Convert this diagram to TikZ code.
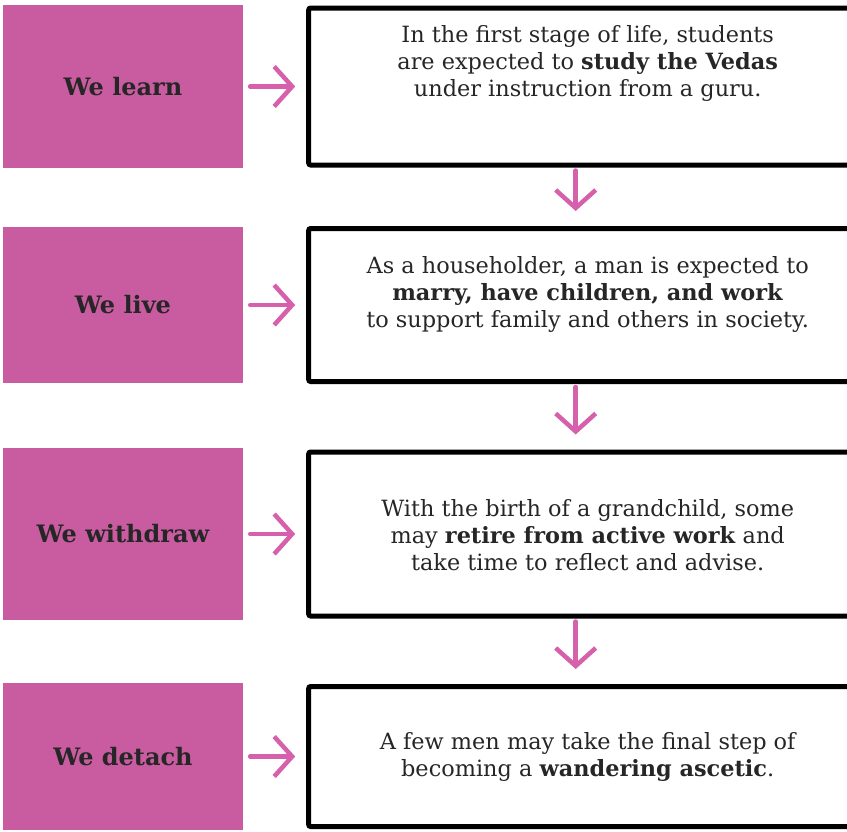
\documentclass[tikz,border=0pt]{standalone}
\usepackage{fontspec}
\setmainfont{DejaVu Serif}
\usetikzlibrary{positioning, arrows.meta}
\definecolor{stagepink}{RGB}{201,92,160}
\definecolor{arrowpink}{RGB}{214,96,172}
\tikzset{
	x=1pt, y=1pt, % one unit is one pixel of the page
	node distance=63pt, % gap between a pink label and its frame
	stage/.style={fill=stagepink, minimum width=240pt, text=black!85, font=\fontsize{24}{28}\selectfont\bfseries}, % pink label on the left
	frame/.style={draw=black, line width=5pt, rounded corners=2pt, minimum width=558pt}, % thick black frame
	desc/.style={align=center, text=black!85, font=\fontsize{22.4}{27}\selectfont}, % text inside a frame
	flow/.style={draw=arrowpink, line width=4.5pt, line cap=round, -{Straight Barb[length=18pt, width=40pt]}}, % hand drawn pink arrow
}

\begin{document}
\begin{tikzpicture}
	\useasboundingbox (0,0) rectangle (847,-831);

	\node[stage, minimum height=163pt] (learn) at (123,-86.5) {We learn};
	\node[stage, minimum height=156pt] (live) at (123,-305) {We live};
	\node[stage, minimum height=172pt] (withdraw) at (123,-534) {We withdraw};
	\node[stage, minimum height=147pt] (detach) at (123,-756.5) {We detach};

	\node[frame, minimum height=157pt, right=of learn] (learnbox) {};
	\node[frame, minimum height=153pt, right=of live] (livebox) {};
	\node[frame, minimum height=164pt, right=of withdraw] (withdrawbox) {};
	\node[frame, minimum height=140pt, right=of detach] (detachbox) {};

	\node[desc] (learntext) at ([yshift=23pt]learnbox.center) {In the first stage of life, students\\are expected to \textbf{study the Vedas}\\under instruction from a guru.};
	\node[desc] (livetext) at ([yshift=11pt]livebox.center) {As a householder, a man is expected to\\\textbf{marry, have children, and work}\\to support family and others in society.};
	\node[desc] (withdrawtext) at ([yshift=-1pt]withdrawbox.center) {With the birth of a grandchild, some\\may \textbf{retire from active work} and\\take time to reflect and advise.};
	\node[desc] (detachtext) at (detachbox.center) {A few men may take the final step of\\becoming a \textbf{wandering ascetic}.};

	\draw[flow, shorten <=7pt, shorten >=11pt] (learn) -- (learnbox);
	\draw[flow, shorten <=7pt, shorten >=11pt] (live) -- (livebox);
	\draw[flow, shorten <=7pt, shorten >=11pt] (withdraw) -- (withdrawbox);
	\draw[flow, shorten <=7pt, shorten >=11pt] (detach) -- (detachbox);

	\draw[flow, shorten <=3pt, shorten >=15pt] ([xshift=-12pt]learnbox.south) -- ([xshift=-12pt]livebox.north);
	\draw[flow, shorten <=3pt, shorten >=15pt] ([xshift=-12pt]livebox.south) -- ([xshift=-12pt]withdrawbox.north);
	\draw[flow, shorten <=3pt, shorten >=15pt] ([xshift=-12pt]withdrawbox.south) -- ([xshift=-12pt]detachbox.north);
\end{tikzpicture}
\end{document}
